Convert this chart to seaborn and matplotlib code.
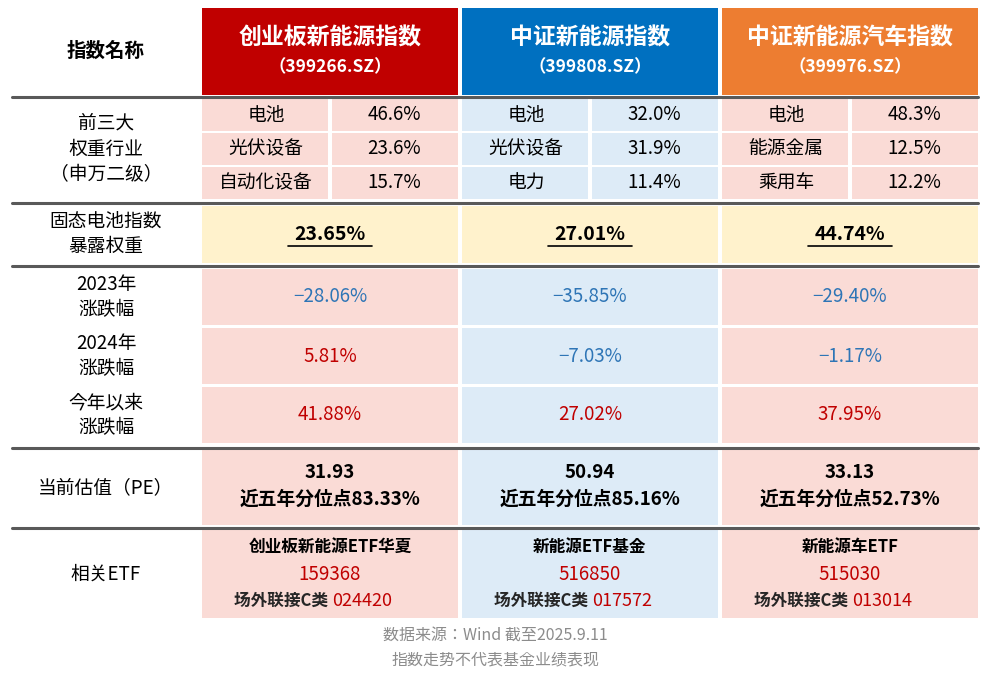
import matplotlib.pyplot as plt
import matplotlib.patches as mpatches
import seaborn as sns

sns.set_theme(style="white")
plt.rcParams["font.family"] = "sans-serif"
plt.rcParams["font.sans-serif"] = ["Noto Sans CJK SC", "Noto Sans CJK JP", "DejaVu Sans"]
plt.rcParams["axes.unicode_minus"] = False

index_names = ["创业板新能源指数", "中证新能源指数", "中证新能源汽车指数"]
index_codes = ["（399266.SZ）", "（399808.SZ）", "（399976.SZ）"]
top_industries = [["电池", "光伏设备", "自动化设备"],
                  ["电池", "光伏设备", "电力"],
                  ["电池", "能源金属", "乘用车"]]
top_weights = [[46.6, 23.6, 15.7], [32.0, 31.9, 11.4], [48.3, 12.5, 12.2]]
solid_state_weight = [23.65, 27.01, 44.74]
ret_2023 = [-28.06, -35.85, -29.40]
ret_2024 = [5.81, -7.03, -1.17]
ret_ytd = [41.88, 27.02, 37.95]
pe_now = [31.93, 50.94, 33.13]
pe_pct = [83.33, 85.16, 52.73]
etf_names = ["创业板新能源ETF华夏", "新能源ETF基金", "新能源车ETF"]
etf_codes = ["159368", "516850", "515030"]
etf_c_codes = ["024420", "017572", "013014"]

header_colors = ["#C00000", "#0070C0", "#ED7D31"]
cell_colors = ["#FADBD6", "#DDEBF7", "#FADBD6"]
RED, BLUE = "#C00000", "#2E75B6"

fig = plt.figure(figsize=(9.88, 6.78), dpi=100)
ax = fig.add_axes([0, 0, 1, 1])
ax.set_xlim(0, 988)
ax.set_ylim(678, 0)
ax.axis("off")

col_x = [(202, 458), (462, 718), (722, 978)]


def rect(x0, y0, x1, y1, color):
    ax.add_patch(mpatches.Rectangle((x0, y0), x1 - x0, y1 - y0, color=color, lw=0))


def txt(x, y, s, size=13.5, color="black", weight="normal", **kw):
    ax.text(x, y, s, ha="center", va="center", fontsize=size, color=color,
            fontweight=weight, **kw)


# header
txt(106, 51, "指数名称", size=14, weight="bold")
for i in range(3):
    x0, x1 = col_x[i]
    rect(x0, 8, x1, 95, header_colors[i])
    txt((x0 + x1) / 2, 38, index_names[i], size=16.5, color="white", weight="bold")
    txt((x0 + x1) / 2, 67, index_codes[i], size=12.5, color="white", weight="bold")

# top 3 industries
txt(106, 149, "前三大\n权重行业\n（申万二级）", size=13.5, linespacing=1.3)
for i in range(3):
    x0, x1 = col_x[i]
    xm = x0 + 128
    for j in range(3):
        y0 = 98 + j * 34
        rect(x0, y0 + 1, xm - 2, y0 + 33, cell_colors[i])
        rect(xm + 2, y0 + 1, x1, y0 + 33, cell_colors[i])
        txt((x0 + xm) / 2, y0 + 17, top_industries[i][j])
        txt((xm + x1) / 2, y0 + 17, f"{top_weights[i][j]:.1f}%")

# solid-state battery weight
txt(106, 234, "固态电池指数\n暴露权重", linespacing=1.25)
for i in range(3):
    x0, x1 = col_x[i]
    rect(x0, 206, x1, 263, "#FFF2CC")
    txt((x0 + x1) / 2, 234, f"{solid_state_weight[i]:.2f}%", size=14, weight="bold")
    ax.plot([(x0 + x1) / 2 - 42, (x0 + x1) / 2 + 42], [246, 246], color="black", lw=1.2)

# returns
for k, (lab, vals) in enumerate([("2023年\n涨跌幅", ret_2023), ("2024年\n涨跌幅", ret_2024),
                                 ("今年以来\n涨跌幅", ret_ytd)]):
    y0 = 268 + k * 59
    txt(106, y0 + 29, lab, linespacing=1.25)
    for i in range(3):
        x0, x1 = col_x[i]
        rect(x0, y0 + 1, x1, y0 + 57, cell_colors[i])
        v = vals[i]
        txt((x0 + x1) / 2, y0 + 29, f"{v:.2f}%".replace("-", "−"),
            color=BLUE if v < 0 else RED)

# PE
txt(106, 488, "当前估值（PE）")
for i in range(3):
    x0, x1 = col_x[i]
    rect(x0, 450, x1, 525, cell_colors[i])
    txt((x0 + x1) / 2, 473, f"{pe_now[i]:.2f}", weight="bold")
    txt((x0 + x1) / 2, 499, f"近五年分位点{pe_pct[i]:.2f}%", weight="bold")

# ETF
txt(106, 574, "相关ETF")
for i in range(3):
    x0, x1 = col_x[i]
    rect(x0, 530, x1, 618, cell_colors[i])
    cx = (x0 + x1) / 2
    txt(cx, 547, etf_names[i], size=12, weight="bold")
    txt(cx, 574, etf_codes[i], color=RED)
    ax.text(cx + 2, 601, "场外联接C类 ", ha="right", va="center", fontsize=12, fontweight="bold")
    ax.text(cx + 2, 601, etf_c_codes[i], ha="left", va="center", fontsize=13, color=RED)

# separators
for y in [97, 203, 266, 448, 528]:
    ax.plot([12, 978], [y, y], color="#595959", lw=2.2)

txt(495, 635, "数据来源：Wind 截至2025.9.11", size=11.5, color="#8C8C8C")
txt(495, 660, "指数走势不代表基金业绩表现", size=11.5, color="#8C8C8C")

fig.savefig("out.png", dpi=100)
